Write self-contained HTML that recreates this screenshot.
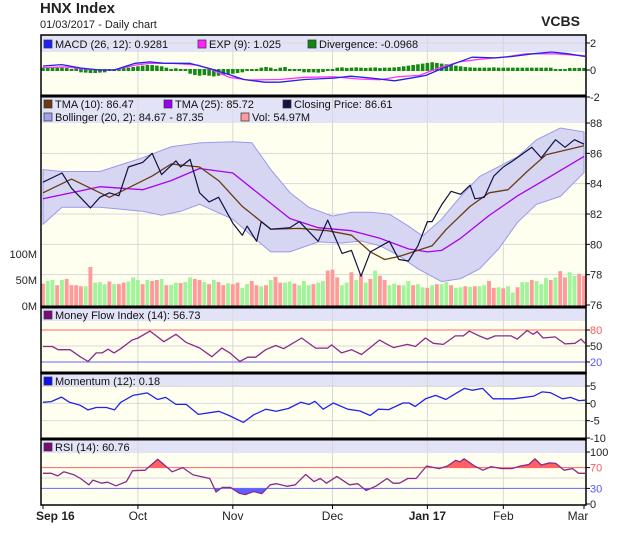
<!DOCTYPE html>
<html><head><meta charset="utf-8"><style>
body{margin:0;background:#fff;font-family:"Liberation Sans",sans-serif;}
svg text{font-family:"Liberation Sans",sans-serif;}
</style></head><body>
<svg id="c" width="620" height="535" xmlns="http://www.w3.org/2000/svg">
<text x="40" y="13" font-size="15" font-weight="bold" fill="#222">HNX Index</text>
<text x="40" y="28" font-size="11" fill="#222">01/03/2017 - Daily chart</text>
<text x="580" y="26" font-size="14" font-weight="bold" text-anchor="end" fill="#222">VCBS</text>
</svg>
<script>
// ---- data ----
const N = 115;
const monthLabels = ["Sep 16","Oct","Nov","Dec","Jan 17","Feb","Mar"];
const monthDays = [0,20,40,61,81,97,114];
const closeDays = [0,4,6,10,12,14,16,18,21,23,25,28,29,31,33,35,37,40,42,43,45,46,48,52,54,58,60,63,65,67,69,73,75,77,79,81,82,84,86,88,90,91,93,95,97,99,103,105,108,110,112,114];
const closeVals = [84.1,84.7,83.7,82.4,83.1,83.4,83.2,85.1,85.4,86.0,84.6,85.5,85.1,85.6,83.4,82.8,83.1,81.4,80.6,81.2,80.2,81.5,81.0,81.1,81.5,80.2,81.6,79.4,79.6,77.9,79.5,80.2,79.0,78.9,79.9,81.5,81.5,82.6,83.5,83.3,83.9,83.0,83.1,84.5,85.1,85.5,86.4,85.7,86.9,86.4,86.9,86.6];
const tma10Days = [0,6,14,23,27,33,37,42,46,48,54,60,65,69,72,75,79,82,85,90,94,98,102,106,110,114];
const tma10Vals = [83.4,84.3,83.1,84.5,85.3,85.1,84.2,82.5,81.5,81.0,81.05,80.9,80.6,79.5,79.0,79.2,79.6,79.9,81.0,82.5,83.4,83.6,84.8,85.9,86.2,86.5];
const tma25Days = [0,12,21,27,33,40,46,52,58,65,71,77,81,84,88,94,100,106,114];
const tma25Vals = [83.0,83.8,83.6,84.2,85.0,84.7,83.2,81.7,81.1,80.9,80.4,79.7,79.5,79.6,80.4,81.9,83.2,84.3,85.8];
const bollUpDays = [0,4,12,21,27,33,40,44,48,52,56,61,65,69,73,77,80,84,88,92,96,100,104,109,114];
const bollUpVals = [84.93,84.8,84.8,85.71,86.43,86.69,86.76,86.7,84.93,83.42,82.44,81.86,82.12,82.12,81.99,81.2,80.55,81.66,83.16,84.47,85.12,85.78,86.89,87.67,87.41];
const bollLoDays = [0,4,12,21,25,29,33,40,44,48,52,58,63,67,71,75,79,84,88,92,96,100,104,109,114];
const bollLoVals = [81.33,82.44,82.44,82.18,81.92,82.18,82.64,81.66,80.55,79.5,79.5,80.16,80.09,80.22,79.9,79.25,78.39,77.54,77.74,78.39,79.7,81.46,82.64,83.16,84.73];
const volumes = [43,48,50,40,50,52,40,40,38,38,75,45,46,42,47,42,42,45,47,55,50,42,50,48,50,52,40,41,45,44,46,55,52,50,46,42,50,46,40,44,42,45,35,42,48,40,38,40,50,56,45,45,47,43,40,48,40,42,45,48,68,70,55,40,45,65,50,60,45,52,68,58,50,40,43,40,40,48,40,42,36,35,40,42,42,46,40,35,36,38,37,38,38,40,48,35,36,34,38,26,36,46,46,50,48,42,54,50,55,67,55,65,58,62,58];
const volUp = [0,1,1,0,1,0,0,0,0,1,0,1,1,1,0,1,0,0,1,1,1,0,1,0,0,1,0,1,1,0,1,1,0,0,1,0,1,0,0,1,0,0,1,1,0,0,1,0,1,0,0,1,1,0,1,1,1,0,1,1,0,0,0,1,1,0,1,0,1,0,1,0,0,1,1,0,1,1,0,1,1,0,1,0,1,1,0,1,1,0,1,0,1,1,0,0,1,0,1,1,0,1,1,0,1,1,1,0,1,0,0,1,1,0,0];
const mfiDays = [0,23,38,68,93,113,133,148,163,178,193,223,238,268,303,333,358,393,423,448,468,493,513,533,558,583,603,648,683,713,723,748,773,798,843,863,878,913,933,958,978,1003,1033,1053,1068,1093,1113,1133,1173,1188,1213,1228,1238,1253,1283,1308,1333,1348,1358];
const mfiVals = [49,49,43,43,30,21,37,37,44,37,44,61,65,78,58,72,57,46,30,46,37,21,29,29,43,51,45,65,46,46,52,37,43,34,61,53,47,53,49,65,55,53,69,69,78,69,63,69,69,63,79,72,77,65,67,54,55,63,55];
const momDays = [0,4,9,13,18,22,26,31,35,38,44,51,56,60,65,70,76,86,91,98,103,109,114,120,126,130,133,137,142,149,155,160,164,169,176,179,182,187,192,197,200,206,210,215,220,230,240,244,248,254,258,262,265];
const momVals = [0.3,0.5,1.8,0.3,-0.5,-1.9,-1.2,-1.2,-1.9,0.3,2.3,3.0,1.1,1.7,-0.3,-0.3,-3.2,-2.3,-3.5,-5.5,-3.3,-1.7,-2.3,-1.5,0.3,-0.3,0.6,-1.7,0.1,-1.7,-2.2,-3.5,-1.7,-1.8,0.1,0.1,-0.9,1.3,2.3,1.1,2.2,4.3,3.8,4.3,1.3,1.3,2.1,3.3,3.1,1.3,1.7,0.8,0.9];
const rsiDays = [0,4,7,10,15,18,22,24,28,31,35,40,43,49,55,62,67,72,80,83,86,90,94,97,101,105,109,112,117,121,126,130,133,136,141,147,151,155,160,165,168,171,175,179,184,190,194,198,200,202,207,211,215,220,225,229,233,236,239,243,246,250,254,257,260];
const rsiVals = [59,59,54,62,56,49,37,46,40,42,35,43,64,65,86,62,70,56,49,23,32,32,21,18,24,20,37,39,34,37,57,43,49,40,53,37,39,26,35,49,40,40,49,49,73,68,73,84,81,87,73,65,72,68,68,73,76,87,75,79,78,65,68,59,59];
const macdDays = [0,9,18,27,34,44,51,58,70,80,88,96,106,113,125,139,147,157,168,178,183,189,197,205,216,224,234,243,251,259];
const macdVals = [0.3,0.4,0.15,0,0,0.5,0.6,0.5,0.5,0.1,-0.3,-0.7,-0.9,-0.9,-0.7,-0.6,-0.46,-0.6,-0.8,-0.54,-0.4,0,0.5,0.95,0.9,1.0,1.2,1.33,1.2,1.0];
const expDays = [0,11,18,27,34,44,51,62,74,81,89,98,113,125,139,151,161,170,180,189,199,209,220,231,245,259];
const expVals = [0.18,0.23,0.1,0,0,0.36,0.5,0.5,0.36,0,-0.54,-0.74,-0.7,-0.54,-0.5,-0.67,-0.72,-0.49,-0.4,0.15,0.6,0.8,0.95,1.2,1.2,1.05];
const divergence = [0.1,0.1,0.1,0.1,0.1,0.08,0,0.08,-0.1,-0.12,-0.15,-0.15,-0.12,-0.1,0,0,0.05,0.1,0.1,0.15,0.2,0.25,0.3,0.3,0.25,0.2,0.1,0,0.05,0,0,-0.2,-0.3,-0.35,-0.3,-0.35,-0.4,-0.35,-0.3,-0.25,-0.2,-0.15,-0.1,0,0,0,0.1,0.15,0.1,0,0.1,0.15,0,0,0,-0.1,-0.1,-0.1,-0.12,-0.08,0,0,0.1,0.12,0.08,0.1,0.12,0.1,0.08,0.1,0.12,0.08,0.1,0.1,0.12,0.15,0.2,0.25,0.3,0.35,0.4,0.45,0.5,0.45,0.4,0.35,0.3,0.25,0.2,0.15,0.12,0.1,0.1,0.1,0.1,0.12,0.1,0.1,0.1,0.1,0.1,0.1,0.1,0.1,0.1,0.1,0.1,0.1,0,0,0,0.08,0.08,0.08,0.08];

// ---- layout ----
const svg = document.getElementById('c');
const NS = 'http://www.w3.org/2000/svg';
const L = 41, R = 586;
function el(tag, at, parent){const e=document.createElementNS(NS,tag);for(const k in at)e.setAttribute(k,at[k]);(parent||svg).appendChild(e);return e;}
const xd = d => 43 + d * (541/114);
const xs = days => { const m = days[days.length-1]; return d => 43 + d * (542/m); };
function lin(v0,y0,v1,y1){return v=>y0+(v-v0)*(y1-y0)/(v1-v0);}

const panels = [
 {name:'macd-panel', top:35, bot:96, leg:17},
 {name:'price-panel', top:96, bot:307, leg:27},
 {name:'mfi-panel', top:307, bot:373, leg:14},
 {name:'momentum-panel', top:373, bot:439, leg:14},
 {name:'rsi-panel', top:439, bot:505, leg:14}
];
panels.forEach(p=>{
  const bg=el('rect',{x:L,y:p.top,width:R-L,height:p.bot-p.top,fill:'#fffff0'});
  
  
  const lg=el('rect',{x:L,y:p.top,width:R-L,height:p.leg,fill:'#e3e3f8'});
  
  
  monthDays.slice(1,6).forEach(d=>{
    const g=el('line',{x1:xd(d),x2:xd(d),y1:p.top,y2:p.bot,stroke:'#d8d8d8','stroke-width':1});
    
    
  });
});
function hgrid(y,col){const g=el('line',{x1:L,x2:R,y1:y,y2:y,stroke:col||'#d8d8d8','stroke-width':1});
  
  }
function ytick(y,t,col){const tx=el('text',{x:590,y:y+4,'font-size':11,fill:col||'#222'});tx.textContent=t;
  
  
  el('line',{x1:R,x2:R+4,y1:y,y2:y,stroke:'#000'});}
function legend(items,y){items.forEach(it=>{
  const g=el('g',{});
  
  
  el('rect',{x:it[3],y:y-8,width:8,height:8,fill:it[1],stroke:'#333','stroke-width':0.7},g);
  const t=el('text',{x:it[3]+11,y:y,'font-size':11,fill:'#111'},g);t.textContent=it[0];});}
function line(days,vals,xf,yf,col,w,name){
  const pts=days.map((d,i)=>xf(d).toFixed(1)+','+yf(vals[i]).toFixed(1)).join(' ');
  const p=el('polyline',{points:pts,fill:'none',stroke:col,'stroke-width':w||1.2,'stroke-linejoin':'round'});
  
  
  return pts;}

// MACD
const yMacd = lin(0,70,2,43);
[2,0,-2].forEach(v=>{if(v>-2)hgrid(yMacd(v));ytick(yMacd(v),String(v));});
const dw=541/114*0.75;
divergence.forEach((v,i)=>{
  const y0=yMacd(0), y1=yMacd(v);
  const r=el('rect',{x:xd(i)-dw/2,y:Math.min(y0,y1)-1,width:dw,height:Math.max(Math.abs(y1-y0),0)+2,fill:'#138a13'});
  
  
});
line(expDays,expVals,xs(expDays),yMacd,'#ff33ff',1.3,'exp-line');
line(macdDays,macdVals,xs(macdDays),yMacd,'#2222ee',1.3,'macd-line');
legend([['MACD (26, 12): 0.9281','#2020ff','macd-legend',44],['EXP (9): 1.025','#ff22ff','exp-legend',198],['Divergence: -0.0968','#118811','divergence-legend',308]],48);

// Price
const yP = lin(88,123,76,305);
const yV = lin(0,306,100,254);
[88,86,84,82,80,78,76].forEach(v=>{if(v<88&&v>76)hgrid(yP(v));ytick(yP(v),String(v));});
[[100,'100M'],[50,'50M'],[0,'0M']].forEach(a=>{const t=el('text',{x:37,y:yV(a[0])+4,'font-size':11,'text-anchor':'end',fill:'#222'});t.textContent=a[1];
  
  });
const up=bollUpDays.map((d,i)=>xd(d).toFixed(1)+','+yP(bollUpVals[i]).toFixed(1));
const lo=bollLoDays.map((d,i)=>xd(d).toFixed(1)+','+yP(bollLoVals[i]).toFixed(1)).reverse();
const band=el('polygon',{points:up.concat(lo).join(' '),fill:'#d6d6f3',stroke:'#9999ee','stroke-width':1});


volumes.forEach((v,i)=>{
  const r=el('rect',{x:xd(i)-2,y:yV(v),width:3.9,height:yV(0)-yV(v),fill:volUp[i]?'#a0f59a':'#ff9a9a'});
  
  
});
line(tma25Days,tma25Vals,xd,yP,'#aa00ee',1.3,'tma25-line');
line(tma10Days,tma10Vals,xd,yP,'#6b3a12',1.3,'tma10-line');
line(closeDays,closeVals,xd,yP,'#111144',1.2,'closing-price-line');
legend([['TMA (10): 86.47','#6b3a12','tma10-legend',44],['TMA (25): 85.72','#9a00ee','tma25-legend',164],['Closing Price: 86.61','#111144','close-legend',283]],108);
legend([['Bollinger (20, 2): 84.67 - 87.35','#a0a0f0','bollinger-legend',44],['Vol: 54.97M','#ff9a9a','volume-legend',241]],121);

// MFI
const yM = lin(80,330,20,362);
hgrid(yM(50));
el('line',{x1:L,x2:R,y1:yM(80),y2:yM(80),stroke:'#ff6666'});
el('line',{x1:L,x2:R,y1:yM(20),y2:yM(20),stroke:'#6666ff'});
ytick(yM(80),'80','#ff5555');ytick(yM(50),'50');ytick(yM(20),'20','#5555ff');
line(mfiDays,mfiVals,xs(mfiDays),yM,'#8b2a8b',1.3,'mfi-line');
legend([['Money Flow Index (14): 56.73','#7a0a7a','mfi-legend',44]],319);

// Momentum
const yMo = lin(5,386,-10,438);
[5,0,-5,-10].forEach(v=>{if(v>-10)hgrid(yMo(v));ytick(yMo(v),String(v));});
line(momDays,momVals,xs(momDays),yMo,'#2222ee',1.3,'momentum-line');
legend([['Momentum (12): 0.18','#1010ee','momentum-legend',44]],385);

// RSI
const yR = lin(100,452,0,504);
const xr = xs(rsiDays);
hgrid(yR(50));
const rsiPts=rsiDays.map((d,i)=>xr(d).toFixed(1)+','+yR(rsiVals[i]).toFixed(1)).join(' ');
const defs=el('defs',{});
const c1=el('clipPath',{id:'above70'},defs);el('rect',{x:L,y:440,width:R-L,height:yR(70)-440},c1);
const c2=el('clipPath',{id:'below30'},defs);el('rect',{x:L,y:yR(30),width:R-L,height:505-yR(30)},c2);
const x0=xr(rsiDays[0]),x1=xr(rsiDays[rsiDays.length-1]);
const fr=el('polygon',{points:x0+','+yR(70)+' '+rsiPts+' '+x1+','+yR(70),fill:'#ff6060','clip-path':'url(#above70)'});


const fb=el('polygon',{points:x0+','+yR(30)+' '+rsiPts+' '+x1+','+yR(30),fill:'#6060ff','clip-path':'url(#below30)'});


el('line',{x1:L,x2:R,y1:yR(70),y2:yR(70),stroke:'#ff6666'});
el('line',{x1:L,x2:R,y1:yR(30),y2:yR(30),stroke:'#6666ff'});
line(rsiDays,rsiVals,xr,yR,'#8b2a8b',1.3,'rsi-line');
ytick(yR(100),'100');ytick(yR(70),'70','#ff5555');ytick(yR(30),'30','#5555ff');ytick(yR(0),'0');
legend([['RSI (14): 60.76','#7a0a7a','rsi-legend',44]],451);

// frames
panels.forEach((p,i)=>{
  const f=el('rect',{x:L,y:p.top,width:R-L,height:p.bot-p.top,fill:'none',stroke:'#000','stroke-width':1.5});
  
  
  if(i>0){const s=el('line',{x1:L,x2:R,y1:p.top,y2:p.top,stroke:'#000','stroke-width':3});
    
    }
});
// x axis labels
monthDays.forEach((d,i)=>{
  const bold=(i===0||i===4);
  const t=el('text',{x:i===0?36:(i===6?578:xd(d)),y:520,'font-size':12,'text-anchor':i===0?'start':'middle','font-weight':bold?'bold':'normal',fill:'#222'});
  t.textContent=monthLabels[i];
  
  
  el('line',{x1:xd(d),x2:xd(d),y1:505,y2:509,stroke:'#000'});
});
</script>
</body></html>
